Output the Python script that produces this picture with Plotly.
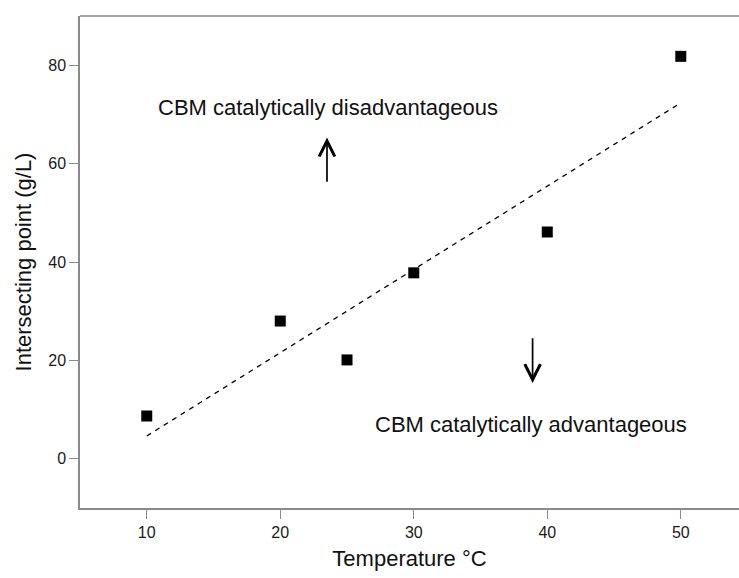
import numpy as np
import plotly.graph_objects as go

temperature = [10, 20, 25, 30, 40, 50]
intersect = [8.7, 28.0, 20.1, 37.8, 46.1, 81.8]
x_ticks = [10, 20, 30, 40, 50]
y_ticks = [0, 20, 40, 60, 80]

slope, intercept = np.polyfit(temperature, intersect, 1)
fit_x = [min(temperature), max(temperature)]
fit_y = [slope * v + intercept for v in fit_x]

font = "Liberation Sans, Arial, sans-serif"
axcol = "#8a8a8a"

fig = go.Figure()
fig.add_trace(go.Scatter(x=fit_x, y=fit_y, mode="lines",
                         line=dict(color="black", width=1.3, dash="5px,5px"),
                         showlegend=False))
fig.add_trace(go.Scatter(x=temperature, y=intersect, mode="markers",
                         marker=dict(symbol="square", size=11, color="black"),
                         showlegend=False))

fig.add_annotation(x=23.55, y=71.5, text="CBM catalytically disadvantageous",
                   showarrow=False, font=dict(family=font, size=22, color="#111"))
fig.add_annotation(x=38.75, y=6.9, text="CBM catalytically advantageous",
                   showarrow=False, font=dict(family=font, size=22, color="#111"))
fig.add_annotation(x=23.5, y=65.3, ax=23.5, ay=56.0, xref="x", yref="y",
                   axref="x", ayref="y", text="", showarrow=True,
                   arrowhead=5, arrowsize=1.8, arrowwidth=1.7, arrowcolor="black")
fig.add_annotation(x=38.9, y=15.4, ax=38.9, ay=24.8, xref="x", yref="y",
                   axref="x", ayref="y", text="", showarrow=True,
                   arrowhead=5, arrowsize=1.8, arrowwidth=1.7, arrowcolor="black")

fig.add_shape(type="line", xref="paper", yref="paper", x0=0, x1=1, y0=1, y1=1,
              line=dict(color=axcol, width=1.5))

fig.update_layout(
    width=739, height=578,
    margin=dict(l=80, r=0, t=16, b=70),
    plot_bgcolor="white", paper_bgcolor="white",
    font=dict(family=font, color="#222"),
)
fig.update_xaxes(range=[5, 54.36], tickvals=x_ticks, showgrid=False, zeroline=False,
                 showline=True, linecolor=axcol, linewidth=1.5,
                 ticks="outside", ticklen=9, tickcolor=axcol, tickwidth=1,
                 tickfont=dict(family=font, size=16, color="#1a1a1a"),
                 title=dict(text="Temperature °C", font=dict(family=font, size=22, color="#111"), standoff=11))
fig.update_yaxes(range=[-10, 90], tickvals=y_ticks, showgrid=False, zeroline=False,
                 showline=True, linecolor=axcol, linewidth=1.5,
                 ticks="outside", ticklen=9, tickcolor=axcol, tickwidth=1,
                 tickfont=dict(family=font, size=16, color="#1a1a1a"),
                 title=dict(text="Intersecting point (g/L)", font=dict(family=font, size=22, color="#111"), standoff=11))

fig.write_html("out.html")
